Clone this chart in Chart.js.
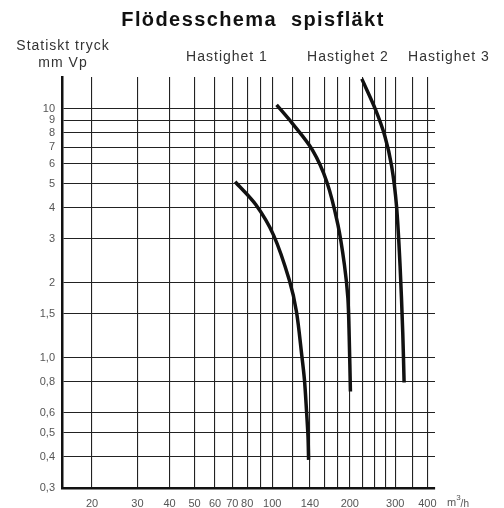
<!DOCTYPE html>
<html>
<head>
<meta charset="utf-8">
<script src="https://cdn.jsdelivr.net/npm/chart.js@4.4.1/dist/chart.umd.min.js"></script>
<style>
  html, body { margin: 0; padding: 0; background: #fff; }
  #wrap { width: 504px; height: 508px; }
</style>
</head>
<body>
<div id="wrap"><canvas id="chart" width="504" height="508"></canvas></div>
<script>
// grid / tick values (m3/h and mm Vp)
var xGrid = [20, 30, 40, 50, 60, 70, 80, 90, 100, 120, 140, 160, 180, 200, 225, 250, 275, 300, 350, 400];
var xLabels = [20, 30, 40, 50, 60, 70, 80, 100, 140, 200, 300, 400];
var yGrid = [0.3, 0.4, 0.5, 0.6, 0.8, 1, 1.5, 2, 3, 4, 5, 6, 7, 8, 9, 10];
var yLabels = ['0,3', '0,4', '0,5', '0,6', '0,8', '1,0', '1,5', '2', '3', '4', '5', '6', '7', '8', '9', '10'];

// curves
var flow1 = [71.8, 86.3, 101.3, 116.5, 124.2, 130.2, 133.4, 135.8, 137.7, 138.4];
var press1 = [5.09, 4.12, 3.10, 2.05, 1.53, 1.025, 0.814, 0.617, 0.481, 0.389];
var flow2 = [104.0, 119.9, 143.3, 162.8, 179.8, 190.6, 196.6, 198.9, 201.1];
var press2 = [10.36, 8.71, 6.82, 5.09, 3.42, 2.36, 1.735, 1.218, 0.732];
var flow3 = [222.7, 251.4, 273.4, 290.5, 303.5, 313.3, 320.9, 324.8];
var press3 = [13.17, 9.94, 7.77, 5.89, 4.07, 2.34, 1.262, 0.795];

var speedNames = ['Hastighet 1', 'Hastighet 2', 'Hastighet 3'];

function pts(xs, ys) {
  return xs.map(function (x, i) { return { x: x, y: ys[i] }; });
}

function curve(label, xs, ys) {
  return {
    label: label,
    data: pts(xs, ys),
    showLine: true,
    borderColor: '#111',
    borderWidth: 3.5,
    pointRadius: 0,
    tension: 0.3,
    fill: false
  };
}

// header texts
var textPlugin = {
  id: 'texts',
  afterDraw: function (chart) {
    var c = chart.ctx;
    c.save();
    c.fillStyle = '#111';
    c.textAlign = 'center';
    c.textBaseline = 'middle';
    c.letterSpacing = '1.4px';
    c.font = 'bold 20px "Liberation Sans", Arial, sans-serif';
    c.fillText('Flödesschema  spisfläkt', 253, 20);

    c.fillStyle = '#333';
    c.letterSpacing = '1px';
    c.font = '14px "Liberation Sans", Arial, sans-serif';
    c.fillText('Statiskt tryck', 63, 46);
    c.fillText('mm Vp', 63, 63);
    c.fillText(speedNames[0], 227, 57);
    c.fillText(speedNames[1], 348, 57);
    c.fillText(speedNames[2], 449, 57);

    c.letterSpacing = '0px';
    c.fillStyle = '#555';
    c.textAlign = 'left';
    c.font = '11px "Liberation Sans", Arial, sans-serif';
    c.fillText('m', 447, 503);
    var w = c.measureText('m').width;
    c.font = '8px "Liberation Sans", Arial, sans-serif';
    c.fillText('3', 447 + w, 498);
    var w3 = c.measureText('3').width;
    c.font = '10px "Liberation Sans", Arial, sans-serif';
    c.fillText('/h', 447 + w + w3, 504);
    c.restore();
  }
};

var ctx = document.getElementById('chart').getContext('2d');
var chart = new Chart(ctx, {
  type: 'scatter',
  data: {
    datasets: [
      curve(speedNames[0], flow1, press1),
      curve(speedNames[1], flow2, press2),
      curve(speedNames[2], flow3, press3)
    ]
  },
  options: {
    responsive: false,
    animation: false,
    layout: { padding: { top: 77, right: 69, bottom: 0, left: 0 } },
    plugins: { legend: { display: false }, tooltip: { enabled: false } },
    scales: {
      x: {
        type: 'logarithmic',
        min: 15.3,
        max: 428,
        afterBuildTicks: function (s) { s.ticks = xGrid.map(function (v) { return { value: v }; }); },
        afterFit: function (s) { s.height = 20; },
        grid: { color: '#222', lineWidth: 1.1, drawTicks: false },
        border: { display: true, color: '#111', width: 2.5 },
        ticks: {
          autoSkip: false,
          maxRotation: 0,
          padding: 9,
          color: '#555',
          font: { family: '"Liberation Sans", Arial, sans-serif', size: 11 },
          callback: function (v) { return xLabels.indexOf(v) >= 0 ? String(v) : ''; }
        }
      },
      y: {
        type: 'logarithmic',
        min: 0.3,
        max: 13.4,
        afterBuildTicks: function (s) { s.ticks = yGrid.map(function (v) { return { value: v }; }); },
        afterFit: function (s) { s.width = 62; },
        grid: { color: '#222', lineWidth: 1.1, drawTicks: false },
        border: { display: true, color: '#111', width: 2.5 },
        ticks: {
          autoSkip: false,
          padding: 7,
          color: '#555',
          font: { family: '"Liberation Sans", Arial, sans-serif', size: 11 },
          callback: function (v, i) { return yLabels[yGrid.indexOf(v)]; }
        }
      }
    }
  },
  plugins: [textPlugin]
});
</script>
</body>
</html>
